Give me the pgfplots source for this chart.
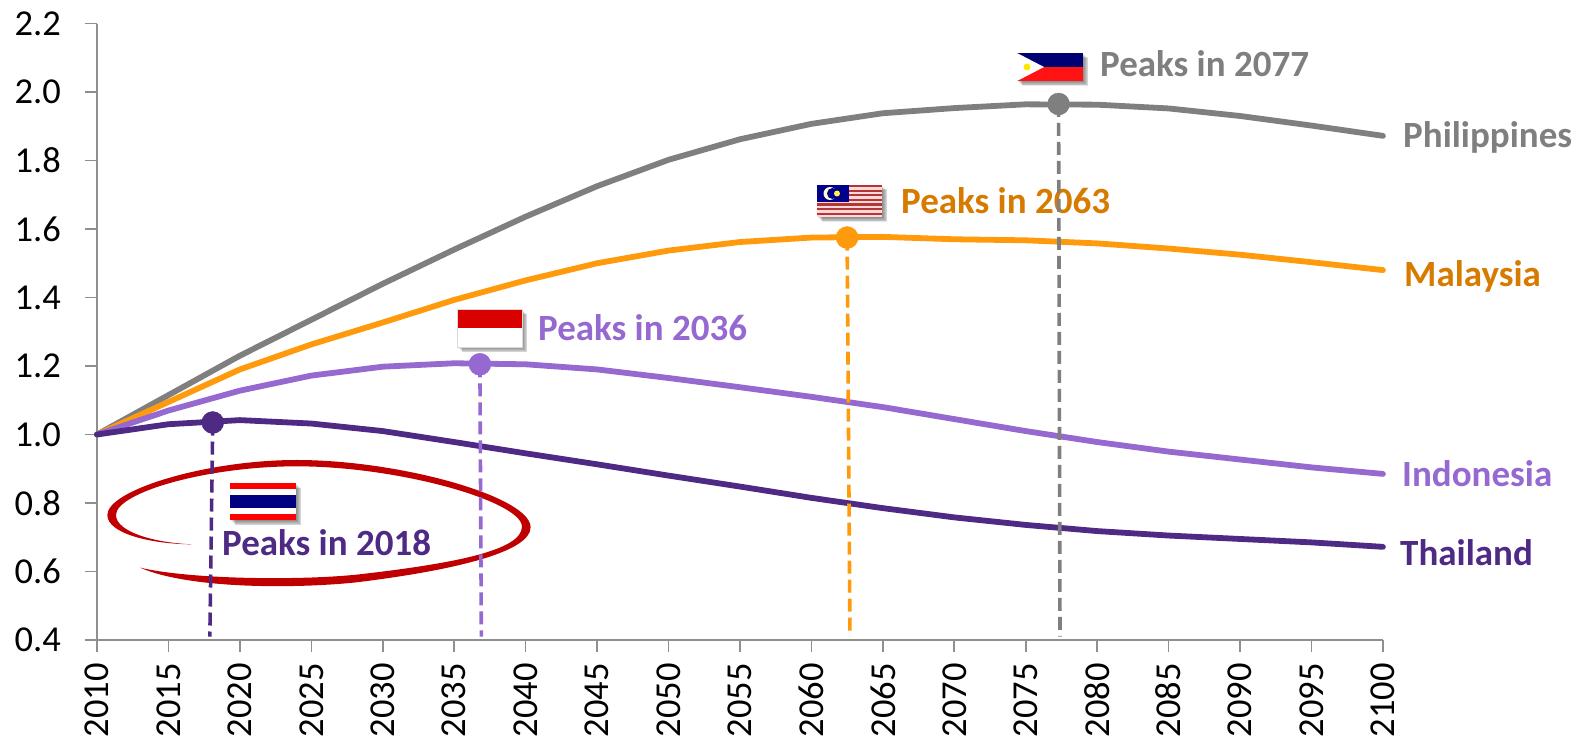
\documentclass[border=0pt]{standalone}
\usepackage{pgfplots}
\pgfplotsset{compat=1.18}
\usepackage{fontspec}
\setmainfont{Carlito}
\definecolor{cgray}{HTML}{7F7F7F}
\definecolor{corange}{HTML}{FF9A0D}
\definecolor{corangetxt}{HTML}{D67A00}
\definecolor{clight}{HTML}{9569D0}
\definecolor{cdark}{HTML}{4E2A84}
\definecolor{cred}{HTML}{C00000}
\definecolor{caxis}{HTML}{8F8F8F}
\pgfplotstableread{
year phi mal ind tha
2010 1.000 1.000 1.000 1.000
2015 1.115 1.095 1.070 1.030
2020 1.230 1.190 1.128 1.042
2025 1.335 1.263 1.172 1.032
2030 1.440 1.327 1.198 1.010
2035 1.540 1.393 1.208 0.978
2040 1.636 1.450 1.205 0.945
2045 1.725 1.500 1.190 0.913
2050 1.802 1.537 1.165 0.880
2055 1.862 1.562 1.138 0.848
2060 1.907 1.575 1.110 0.815
2065 1.938 1.577 1.080 0.785
2070 1.953 1.570 1.045 0.758
2075 1.964 1.567 1.010 0.736
2080 1.963 1.558 0.978 0.718
2085 1.952 1.543 0.950 0.705
2090 1.930 1.525 0.927 0.695
2095 1.902 1.503 0.904 0.685
2100 1.872 1.480 0.885 0.672
}\datatable
\newcommand{\shadowrect}[4]{%
  \foreach \k in {1,...,6}{\fill[black,opacity=0.09] (#1+\k*0.9,#2+\k*0.9) rectangle (#3+\k*0.9,#4+\k*0.9);}%
  \fill[white] (#1,#2) rectangle (#3,#4);}
\begin{document}
\begin{tikzpicture}[x=1pt,y=1pt]
\useasboundingbox (-97,-100) rectangle (1488,640);
\begin{scope}[shift={(-97pt,640pt)},x=1pt,y=-1pt]
\def\lab#1#2#3#4{\node[anchor=base west,inner sep=0pt,font=\fontsize{37}{37}\selectfont\bfseries,text=#4] at (#1,#2) {#3};}
\lab{1100}{77}{Peaks in 2077}{cgray}
\lab{901}{214}{Peaks in 2063}{corangetxt}
\lab{538}{340}{Peaks in 2036}{clight}
\lab{222}{555}{Peaks in 2018}{cdark}
\lab{1403}{148}{Philippines}{cgray}
\lab{1404}{287}{Malaysia}{corangetxt}
\lab{1402}{486}{Indonesia}{clight}
\lab{1400}{565}{Thailand}{cdark}
% Philippines flag
\shadowrect{1017}{53}{1083}{81}
\fill[blue!45!black] (1017,53) rectangle (1083,67);
\fill[red!90!pink] (1017,67) rectangle (1083,81);
\fill[white] (1017,53) -- (1044,67) -- (1017,81) -- cycle;
\fill[yellow!90!orange] (1027,67) circle (3.5);
% Malaysia flag
\shadowrect{817}{185}{882}{217}
\fill[white!85!red] (817,185) rectangle (882,217);
\foreach \yy in {185,189.6,194.2,198.8,203.4,208,212.6}{\fill[red!60!black,opacity=.75] (817,\yy) rectangle (882,\yy+2.2);}
\fill[blue!55!black] (817,185) rectangle (849,202);
\fill[white!80!yellow] (830,193.5) circle (6.5);
\fill[blue!55!black] (832.5,193.5) circle (5.5);
\fill[yellow!70!white] (837,193.5) circle (3);
% Indonesia flag
\shadowrect{457}{309}{522}{347}
\fill[red!85!black] (457,309) rectangle (522,328);
\draw[black!15,line width=.5pt] (457,309) rectangle (522,347);
% ellipse
\begin{scope}[shift={(90,400)},x=0.3333pt,y=-0.3333pt]
\fill[cred] (305,433) .. controls (180,432) and (52,400) .. (52,345)
 .. controls (52,270) and (350,180) .. (620,180)
 .. controls (930,180) and (1322,290) .. (1322,382)
 .. controls (1322,455) and (1100,510) .. (800,547)
 .. controls (620,566) and (300,568) .. (150,503)
 .. controls (300,538) and (620,542) .. (800,524)
 .. controls (1100,490) and (1296,450) .. (1296,380)
 .. controls (1296,305) and (930,199) .. (620,199)
 .. controls (350,199) and (78,278) .. (78,345)
 .. controls (78,395) and (190,428) .. (305,433) -- cycle;
\end{scope}
% Thailand flag
\shadowrect{230}{483}{296}{520}
\fill[red] (230,483) rectangle (296,489);
\fill[red] (230,514) rectangle (296,520);
\fill[blue!50!black] (230,495) rectangle (296,507.5);
\end{scope}
\begin{axis}[
 scale only axis,width=1286pt,height=616.5pt,at={(0pt,0pt)},anchor=south west,
 xmin=2010,xmax=2100,ymin=0.4,ymax=2.2,
 axis x line*=bottom,axis y line*=left,
 axis line style={caxis,line width=1.8pt,-},
 xtick={2010,2015,...,2100},ytick={0.4,0.6,...,2.21},
 tick style={caxis,line width=1.6pt},tick align=outside,
 major tick length=12pt,
 x tick label style={rotate=90,anchor=east,font=\fontsize{36.5}{36.5}\selectfont,/pgf/number format/1000 sep={},inner sep=11pt},
 y tick label style={font=\fontsize{36.5}{36.5}\selectfont,/pgf/number format/fixed,/pgf/number format/fixed zerofill,/pgf/number format/precision=1,inner sep=24pt},
 /pgf/number format/assume math mode=true,
 clip=false,
]
\addplot[cgray,line width=5.8pt,line join=round,line cap=round] table[x=year,y=phi]{\datatable};
\addplot[corange,line width=5.8pt,line join=round,line cap=round] table[x=year,y=mal]{\datatable};
\addplot[clight,line width=5.8pt,line join=round,line cap=round] table[x=year,y=ind]{\datatable};
\addplot[cdark,line width=5.8pt,line join=round,line cap=round] table[x=year,y=tha]{\datatable};
\addplot[cdark,line width=3.6pt,dash pattern=on 13pt off 6pt] coordinates {(2018.1,1.035) (2017.9,0.41)};
\addplot[clight,line width=3.6pt,dash pattern=on 13pt off 6pt] coordinates {(2036.8,1.205) (2036.9,0.41)};
\addplot[corange,line width=3.6pt,dash pattern=on 13pt off 6pt] coordinates {(2062.5,1.575) (2062.7,0.41)};
\addplot[cgray,line width=3.6pt,dash pattern=on 13pt off 6pt] coordinates {(2077.3,1.965) (2077.4,0.41)};
\addplot[only marks,mark=*,mark size=11pt,cdark,mark options={fill=cdark,draw=none}] coordinates {(2018.1,1.035)};
\addplot[only marks,mark=*,mark size=11pt,clight,mark options={fill=clight,draw=none}] coordinates {(2036.8,1.205)};
\addplot[only marks,mark=*,mark size=11pt,corange,mark options={fill=corange,draw=none}] coordinates {(2062.5,1.575)};
\addplot[only marks,mark=*,mark size=11pt,cgray,mark options={fill=cgray,draw=none}] coordinates {(2077.3,1.965)};
\end{axis}
\end{tikzpicture}
\end{document}
